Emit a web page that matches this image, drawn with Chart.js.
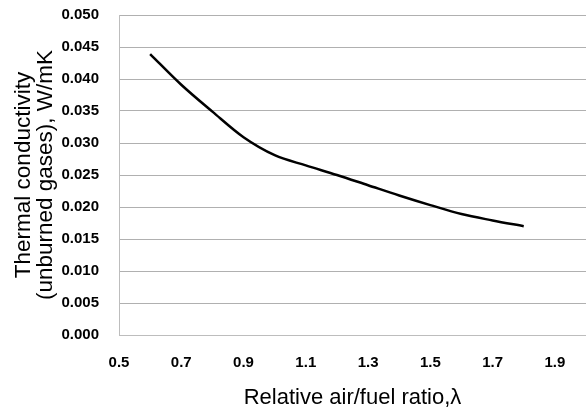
<!DOCTYPE html>
<html>
<head>
<meta charset="utf-8">
<script src="https://cdn.jsdelivr.net/npm/chart.js@4.4.1/dist/chart.umd.min.js"></script>
<style>
  html, body { margin: 0; padding: 0; background: #fff; }
  #wrap { width: 586px; height: 412px; position: relative; }
</style>
</head>
<body>
<div id="wrap"><canvas id="c"></canvas></div>
<script>
const lambdaValues = [0.6, 0.7, 0.8, 0.9, 1.0, 1.1, 1.2, 1.3, 1.4, 1.5, 1.6, 1.7, 1.8];
const conductivity = [0.0439, 0.0391, 0.0349, 0.0309, 0.0281, 0.0265, 0.0250, 0.0234, 0.0218, 0.0203, 0.0189, 0.0179, 0.0170];
const xTicks = [0.5, 0.7, 0.9, 1.1, 1.3, 1.5, 1.7, 1.9];
const yTicks = [0, 0.005, 0.010, 0.015, 0.020, 0.025, 0.030, 0.035, 0.040, 0.045, 0.050];
const xTitle = 'Relative air/fuel ratio,\u03bb';
const yTitle = ['Thermal conductivity', '(unburned gases), W/mK'];

const points = lambdaValues.map((x, i) => ({ x: x, y: conductivity[i] }));
const tickFont = { family: 'Liberation Sans, Arial, sans-serif', size: 15, weight: 'bold' };
const titleFont = { family: 'Liberation Sans, Arial, sans-serif', size: 22.5, weight: 'normal', lineHeight: 0.98 };

new Chart(document.getElementById('c'), {
  type: 'scatter',
  data: {
    datasets: [{
      data: points,
      showLine: true,
      borderColor: '#000',
      borderWidth: 2.5,
      pointRadius: 0,
      cubicInterpolationMode: 'monotone',
      fill: false
    }]
  },
  options: {
    responsive: true,
    maintainAspectRatio: false,
    animation: false,
    layout: { padding: { top: 15, right: -3, left: 0, bottom: 0 } },
    plugins: { legend: { display: false }, tooltip: { enabled: false } },
    scales: {
      x: {
        type: 'linear',
        min: 0.5,
        max: 2.0,
        afterBuildTicks: s => { s.ticks = xTicks.map(v => ({ value: v })); },
        afterFit: s => { s.height = 77; },
        grid: { display: false, drawTicks: false },
        border: { display: true, color: '#bdbdbd', width: 1 },
        ticks: {
          padding: 19,
          color: '#000',
          font: tickFont,
          maxRotation: 0,
          callback: v => v.toFixed(1)
        },
        title: {
          display: true,
          text: xTitle,
          color: '#000',
          font: { family: 'Liberation Sans, Arial, sans-serif', size: 22, weight: 'normal', lineHeight: 1.0 },
          padding: { top: 0, bottom: 3 }
        }
      },
      y: {
        type: 'linear',
        min: 0,
        max: 0.05,
        afterBuildTicks: s => { s.ticks = yTicks.map(v => ({ value: v })); },
        afterFit: s => { s.width = 119; },
        grid: { color: '#b0b0b0', lineWidth: 1, drawTicks: true, tickLength: 20, tickColor: 'rgba(0,0,0,0)' },
        border: { display: true, color: '#bdbdbd', width: 1 },
        ticks: {
          padding: 0,
          color: '#000',
          font: tickFont,
          callback: v => v.toFixed(3)
        },
        title: {
          display: true,
          text: yTitle,
          color: '#000',
          font: titleFont,
          padding: { top: 12.5, bottom: 0 }
        }
      }
    }
  }
});
</script>
</body>
</html>
